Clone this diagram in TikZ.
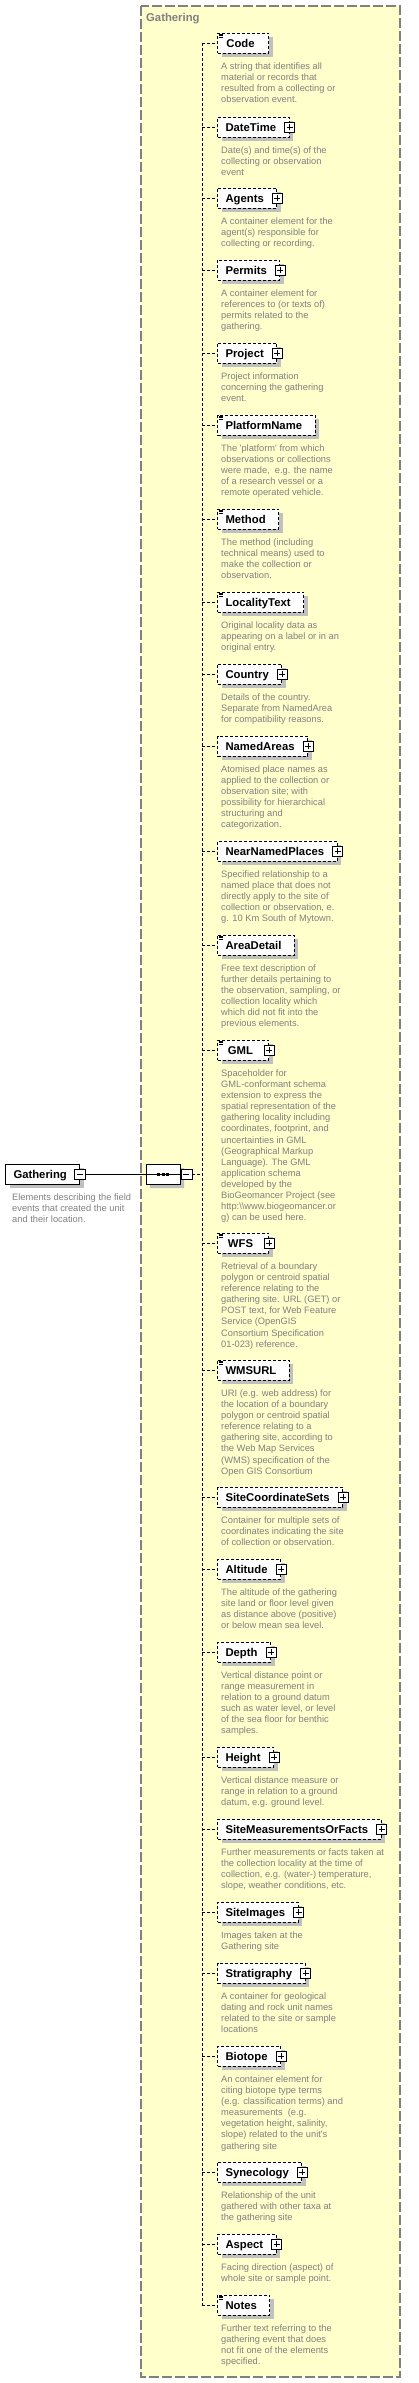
\documentclass[tikz,border=0pt]{standalone}
\usepackage{fontspec}
\setmainfont{Liberation Sans}
\usetikzlibrary{positioning,shadows,shapes.misc}
\definecolor{groupfill}{RGB}{255,255,204}
\definecolor{groupline}{RGB}{128,128,128}
\definecolor{descgray}{RGB}{128,128,128}
\definecolor{shadowgray}{RGB}{192,192,192}

\begin{document}
\begin{tikzpicture}[x=1pt,y=-1pt,
  elem/.style={draw,dash pattern=on 3pt off 2pt,line width=1pt,fill=white,anchor=west,
    minimum height=20pt,minimum width=51pt,inner xsep=0pt,inner ysep=0pt,
    text height=8.1pt,text depth=0pt,font=\fontsize{11.3}{13}\selectfont\bfseries,
    execute at begin node={\hspace*{8pt}},execute at end node={\hspace*{13pt}},
    drop shadow={shadow xshift=4pt,shadow yshift=-4pt,fill=shadowgray,opacity=1}},
  root/.style={elem,solid},
  desc/.style={align=left,inner sep=0pt,anchor=north west,text=descgray,
    font=\fontsize{9.3}{11.1}\selectfont},
  plusbox/.style={draw,fill=white,line width=0.8pt,minimum size=10pt,inner sep=0pt,
    path picture={
      \draw[line width=0.8pt] ([xshift=-3pt]path picture bounding box.center) -- ([xshift=3pt]path picture bounding box.center);
      \draw[line width=0.8pt] ([yshift=-3pt]path picture bounding box.center) -- ([yshift=3pt]path picture bounding box.center);}},
  minusbox/.style={draw,fill=white,line width=0.8pt,minimum width=11pt,minimum height=10pt,inner sep=0pt,
    path picture={
      \draw[line width=0.8pt] ([xshift=-3pt]path picture bounding box.center) -- ([xshift=3pt]path picture bounding box.center);}},
  simplemark/.style={anchor=north west,inner sep=0pt,minimum width=7pt,minimum height=7pt,
    path picture={
      \foreach \dy in {1.5,3,4.5}
        \draw[line width=0.8pt] ([xshift=1.5pt,yshift=-\dy pt]path picture bounding box.north west) -- ++(4.5,0);}},
  seqbox/.style={chamfered rectangle,chamfered rectangle xsep=5pt,chamfered rectangle ysep=5pt,
    draw,fill=white,line width=1pt,minimum width=34pt,minimum height=20pt,inner sep=0pt,
    drop shadow={shadow xshift=4pt,shadow yshift=-4pt,fill=shadowgray,opacity=1}},
  conn/.style={line width=1pt,dash pattern=on 3pt off 2pt},
  grouptitle/.style={anchor=west,inner sep=0pt,text=groupline,font=\fontsize{11.3}{13}\selectfont\bfseries}]
\useasboundingbox (0,0) rectangle (419,2383);

% group box
\draw[groupline,fill=groupfill,line width=1.2pt,dash pattern=on 10pt off 3pt] (141,6) rectangle (400,2377);
\node[grouptitle] (grouplabel) at (146,19) {Gathering};

% root element
\node[root] (gathering) at (5,1174) {Gathering};
\node[minusbox] (gatheringminus) at (gathering.east) {};
\node[desc,below right=9pt and 7pt of gathering.south west] (gatheringtext) {Elements describing the field\\events that created the unit\\and their location.};

% sequence
\node[seqbox] (seq) at (163,1174) {};
\draw[line width=1pt] (seq.west) -- (seq.east);
\foreach \dx in {-4.5,0,4.5}
  \fill ([xshift=\dx pt]seq.center) +(-1.5,-1.5) rectangle +(1.5,1.5);
\node[minusbox,anchor=west] (seqminus) at (seq.east) {};
\draw[line width=1pt] (gatheringminus.east) -- (seq.west);

% children
\node[elem] (code) at (217,43) {Code};
\node[simplemark] at (code.north west) {};
\node[desc,below right=9pt and 4pt of code.south west] (codetext) {A string that identifies all\\material or records that\\resulted from a collecting or\\observation event.};

\node[elem] (datetime) at (217,127) {DateTime};
\node[plusbox] at (datetime.east) {};
\node[desc,below right=9pt and 4pt of datetime.south west] (datetimetext) {Date(s) and time(s) of the\\collecting or observation\\event};

\node[elem] (agents) at (217,198) {Agents};
\node[plusbox] at (agents.east) {};
\node[desc,below right=9pt and 4pt of agents.south west] (agentstext) {A container element for the\\agent(s) responsible for\\collecting or recording.};

\node[elem] (permits) at (217,270) {Permits};
\node[plusbox] at (permits.east) {};
\node[desc,below right=9pt and 4pt of permits.south west] (permitstext) {A container element for\\references to (or texts of)\\permits related to the\\gathering.};

\node[elem] (project) at (217,353) {Project};
\node[plusbox] at (project.east) {};
\node[desc,below right=9pt and 4pt of project.south west] (projecttext) {Project information\\concerning the gathering\\event.};

\node[elem] (platformname) at (217,425) {PlatformName};
\node[simplemark] at (platformname.north west) {};
\node[desc,below right=9pt and 4pt of platformname.south west] (platformnametext) {The \textquotesingle platform\textquotesingle{} from which\\observations or collections\\were made,~ e.g. the name\\of a research vessel or a\\remote operated vehicle.};

\node[elem] (method) at (217,519) {Method};
\node[simplemark] at (method.north west) {};
\node[desc,below right=9pt and 4pt of method.south west] (methodtext) {The method (including\\technical means) used to\\make the collection or\\observation.};

\node[elem] (localitytext) at (217,602) {LocalityText};
\node[simplemark] at (localitytext.north west) {};
\node[desc,below right=9pt and 4pt of localitytext.south west] (localitytexttext) {Original locality data as\\appearing on a label or in an\\original entry.};

\node[elem] (country) at (217,674) {Country};
\node[plusbox] at (country.east) {};
\node[desc,below right=9pt and 4pt of country.south west] (countrytext) {Details of the country.\\Separate from NamedArea\\for compatibility reasons.};

\node[elem] (namedareas) at (217,746) {NamedAreas};
\node[plusbox] at (namedareas.east) {};
\node[desc,below right=9pt and 4pt of namedareas.south west] (namedareastext) {Atomised place names as\\applied to the collection or\\observation site; with\\possibility for hierarchical\\structuring and\\categorization.};

\node[elem] (nearnamedplaces) at (217,851) {NearNamedPlaces};
\node[plusbox] at (nearnamedplaces.east) {};
\node[desc,below right=9pt and 4pt of nearnamedplaces.south west] (nearnamedplacestext) {Specified relationship to a\\named place that does not\\directly apply to the site of\\collection or observation, e.\\g. 10 Km South of Mytown.};

\node[elem] (areadetail) at (217,945) {AreaDetail};
\node[simplemark] at (areadetail.north west) {};
\node[desc,below right=9pt and 4pt of areadetail.south west] (areadetailtext) {Free text description of\\further details pertaining to\\the observation, sampling, or\\collection locality which\\which did not fit into the\\previous elements.};

\node[elem] (gml) at (217,1050) {GML};
\node[simplemark] at (gml.north west) {};
\node[plusbox] at (gml.east) {};
\node[desc,below right=9pt and 4pt of gml.south west] (gmltext) {Spaceholder for\\GML-conformant schema\\extension to express the\\spatial representation of the\\gathering locality including\\coordinates, footprint, and\\uncertainties in GML\\(Geographical Markup\\Language). The GML\\application schema\\developed by the\\BioGeomancer Project (see\\http:\textbackslash\textbackslash www.biogeomancer.or\\g) can be used here.};

\node[elem] (wfs) at (217,1243) {WFS};
\node[simplemark] at (wfs.north west) {};
\node[plusbox] at (wfs.east) {};
\node[desc,below right=9pt and 4pt of wfs.south west] (wfstext) {Retrieval of a boundary\\polygon or centroid spatial\\reference relating to the\\gathering site. URL (GET) or\\POST text, for Web Feature\\Service (OpenGIS\\Consortium Specification\\01-023) reference.};

\node[elem] (wmsurl) at (217,1370) {WMSURL};
\node[simplemark] at (wmsurl.north west) {};
\node[desc,below right=9pt and 4pt of wmsurl.south west] (wmsurltext) {URI (e.g. web address) for\\the location of a boundary\\polygon or centroid spatial\\reference relating to a\\gathering site, according to\\the Web Map Services\\(WMS) specification of the\\Open GIS Consortium};

\node[elem] (sitecoordinatesets) at (217,1497) {SiteCoordinateSets};
\node[plusbox] at (sitecoordinatesets.east) {};
\node[desc,below right=9pt and 4pt of sitecoordinatesets.south west] (sitecoordinatesetstext) {Container for multiple sets of\\coordinates indicating the site\\of collection or observation.};

\node[elem] (altitude) at (217,1569) {Altitude};
\node[plusbox] at (altitude.east) {};
\node[desc,below right=9pt and 4pt of altitude.south west] (altitudetext) {The altitude of the gathering\\site land or floor level given\\as distance above (positive)\\or below mean sea level.};

\node[elem] (depth) at (217,1652) {Depth};
\node[plusbox] at (depth.east) {};
\node[desc,below right=9pt and 4pt of depth.south west] (depthtext) {Vertical distance point or\\range measurement in\\relation to a ground datum\\such as water level, or level\\of the sea floor for benthic\\samples.};

\node[elem] (height) at (217,1757) {Height};
\node[plusbox] at (height.east) {};
\node[desc,below right=9pt and 4pt of height.south west] (heighttext) {Vertical distance measure or\\range in relation to a ground\\datum, e.g. ground level.};

\node[elem] (sitemeasurements) at (217,1829) {SiteMeasurementsOrFacts};
\node[plusbox] at (sitemeasurements.east) {};
\node[desc,below right=9pt and 4pt of sitemeasurements.south west] (sitemeasurementstext) {Further measurements or facts taken at\\the collection locality at the time of\\collection, e.g. (water-) temperature,\\slope, weather conditions, etc.};

\node[elem] (siteimages) at (217,1912) {SiteImages};
\node[plusbox] at (siteimages.east) {};
\node[desc,below right=9pt and 4pt of siteimages.south west] (siteimagestext) {Images taken at the\\Gathering site};

\node[elem] (stratigraphy) at (217,1973) {Stratigraphy};
\node[plusbox] at (stratigraphy.east) {};
\node[desc,below right=9pt and 4pt of stratigraphy.south west] (stratigraphytext) {A container for geological\\dating and rock unit names\\related to the site or sample\\locations};

\node[elem] (biotope) at (217,2056) {Biotope};
\node[plusbox] at (biotope.east) {};
\node[desc,below right=9pt and 4pt of biotope.south west] (biotopetext) {An container element for\\citing biotope type terms\\(e.g. classification terms) and\\measurements~ (e.g.\\vegetation height, salinity,\\slope) related to the unit\textquotesingle s\\gathering site};

\node[elem] (synecology) at (217,2172) {Synecology};
\node[plusbox] at (synecology.east) {};
\node[desc,below right=9pt and 4pt of synecology.south west] (synecologytext) {Relationship of the unit\\gathered with other taxa at\\the gathering site};

\node[elem] (aspect) at (217,2244) {Aspect};
\node[plusbox] at (aspect.east) {};
\node[desc,below right=9pt and 4pt of aspect.south west] (aspecttext) {Facing direction (aspect) of\\whole site or sample point.};

\node[elem] (notes) at (217,2305) {Notes};
\node[simplemark] at (notes.north west) {};
\node[desc,below right=9pt and 4pt of notes.south west] (notestext) {Further text referring to the\\gathering event that does\\not fit one of the elements\\specified.};

% connectors
\coordinate (spine) at (202,1174);
\draw[conn] (seqminus.east) -- (spine);
\draw[conn] (spine |- code.west) -- (spine |- notes.west);
\draw[conn] (spine |- code.west) -- (code.west);
\draw[conn] (spine |- datetime.west) -- (datetime.west);
\draw[conn] (spine |- agents.west) -- (agents.west);
\draw[conn] (spine |- permits.west) -- (permits.west);
\draw[conn] (spine |- project.west) -- (project.west);
\draw[conn] (spine |- platformname.west) -- (platformname.west);
\draw[conn] (spine |- method.west) -- (method.west);
\draw[conn] (spine |- localitytext.west) -- (localitytext.west);
\draw[conn] (spine |- country.west) -- (country.west);
\draw[conn] (spine |- namedareas.west) -- (namedareas.west);
\draw[conn] (spine |- nearnamedplaces.west) -- (nearnamedplaces.west);
\draw[conn] (spine |- areadetail.west) -- (areadetail.west);
\draw[conn] (spine |- gml.west) -- (gml.west);
\draw[conn] (spine |- wfs.west) -- (wfs.west);
\draw[conn] (spine |- wmsurl.west) -- (wmsurl.west);
\draw[conn] (spine |- sitecoordinatesets.west) -- (sitecoordinatesets.west);
\draw[conn] (spine |- altitude.west) -- (altitude.west);
\draw[conn] (spine |- depth.west) -- (depth.west);
\draw[conn] (spine |- height.west) -- (height.west);
\draw[conn] (spine |- sitemeasurements.west) -- (sitemeasurements.west);
\draw[conn] (spine |- siteimages.west) -- (siteimages.west);
\draw[conn] (spine |- stratigraphy.west) -- (stratigraphy.west);
\draw[conn] (spine |- biotope.west) -- (biotope.west);
\draw[conn] (spine |- synecology.west) -- (synecology.west);
\draw[conn] (spine |- aspect.west) -- (aspect.west);
\draw[conn] (spine |- notes.west) -- (notes.west);
\end{tikzpicture}
\end{document}
